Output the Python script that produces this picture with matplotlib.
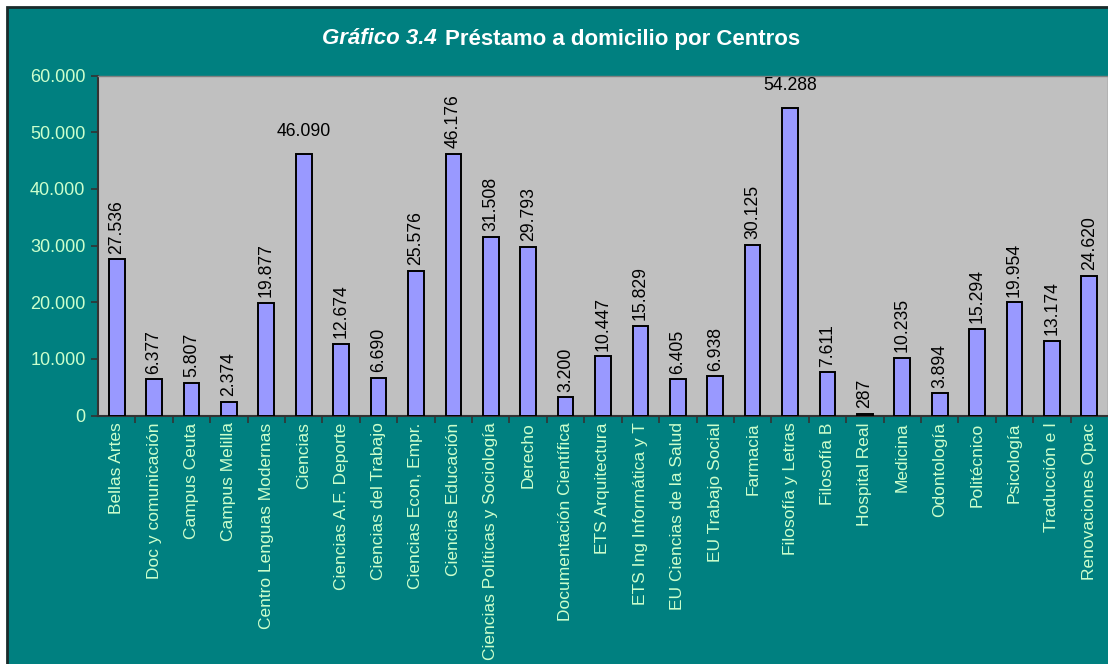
import matplotlib
matplotlib.use("Agg")
import matplotlib.pyplot as plt
from matplotlib.patches import Rectangle
from matplotlib.ticker import FuncFormatter, FixedLocator

categories = ["Bellas Artes", "Doc y comunicación", "Campus Ceuta", "Campus Melilla",
              "Centro Lenguas Modernas", "Ciencias", "Ciencias A.F. Deporte",
              "Ciencias del Trabajo", "Ciencias Econ, Empr.", "Ciencias Educación",
              "Ciencias Políticas y Sociología", "Derecho", "Documentación Científica",
              "ETS Arquitectura", "ETS Ing Informática y T", "EU Ciencias de la Salud",
              "EU Trabajo Social", "Farmacia", "Filosofía y Letras", "Filosofía B",
              "Hospital Real", "Medicina", "Odontología", "Politécnico", "Psicología",
              "Traducción e I", "Renovaciones Opac"]
values = [27536, 6377, 5807, 2374, 19877, 46090, 12674, 6690, 25576, 46176,
          31508, 29793, 3200, 10447, 15829, 6405, 6938, 30125, 54288, 7611,
          287, 10235, 3894, 15294, 19954, 13174, 24620]
horizontal_labels = {"Ciencias", "Filosofía y Letras"}
yticks = [0, 10000, 20000, 30000, 40000, 50000, 60000]

TEAL = "#008080"
GRAY = "#C0C0C0"
BAR = "#9999FF"
LIGHT = "#CCFFCC"
FONT = "Liberation Sans"

plt.rcParams['font.family'] = [FONT, 'DejaVu Sans']

W, H = 1108, 664
fig = plt.figure(figsize=(W / 100, H / 100), dpi=100, facecolor="white")
# teal frame
fig.patches.append(Rectangle((7 / W, -0.01), 1.02, (H - 7) / H + 0.01,
                             transform=fig.transFigure, facecolor=TEAL,
                             edgecolor="#1a2a2a", linewidth=2.0, zorder=-10))

ax = fig.add_axes([98 / W, 1 - 415.5 / H, (1108 - 98) / W, (415.5 - 75.5) / H])
ax.set_zorder(1)
ax.set_facecolor(GRAY)
n = len(categories)
x = list(range(n))
ax.bar(x, values, width=0.42, color=BAR, edgecolor="black", linewidth=1.4, zorder=3)
ax.set_xlim(-0.5, n - 0.5)
ax.set_ylim(0, 60000)

ax.yaxis.set_major_locator(FixedLocator(yticks))
ax.yaxis.set_major_formatter(FuncFormatter(lambda v, p: f"{int(v):,}".replace(",", ".")))
ax.tick_params(axis="y", colors="#333333", labelcolor=LIGHT, labelsize=13,
               length=5, width=1.2, direction="out", pad=4)
ax.set_xticks([i - 0.5 for i in range(1, n)], minor=True)
ax.set_xticks(x)
ax.set_xticklabels(categories, rotation=90, color=LIGHT, fontsize=12.5)
ax.tick_params(axis="x", which="major", length=0, pad=5)
ax.tick_params(axis="x", which="minor", length=5, width=1.2, color="#333333", direction="out")

for s in ["top", "right"]:
    ax.spines[s].set_color("#808080")
    ax.spines[s].set_linewidth(1.0)
for s in ["left", "bottom"]:
    ax.spines[s].set_color("#333333")
    ax.spines[s].set_linewidth(1.5)

for xi, (cat, v) in enumerate(zip(categories, values)):
    lab = f"{v:,}".replace(",", ".")
    if cat in horizontal_labels:
        ax.annotate(lab, (xi, v), xytext=(0, 10), textcoords="offset points",
                    ha="center", va="bottom", fontsize=12.7, color="black", zorder=4)
    else:
        ax.annotate(lab, (xi, v), xytext=(0, 4), textcoords="offset points",
                    ha="center", va="bottom", rotation=90, fontsize=12.7,
                    color="black", zorder=4)

# title
fig.text(437 / W, 1 - 39 / H, "Gráfico 3.4", ha="right", va="center",
         fontsize=16, fontweight="bold", fontstyle="italic", color="white")
fig.text(445 / W, 1 - 39 / H, "Préstamo a domicilio por Centros", ha="left",
         va="center", fontsize=16, fontweight="bold", color="white")

fig.savefig("out.png", dpi=100, facecolor=fig.get_facecolor())
